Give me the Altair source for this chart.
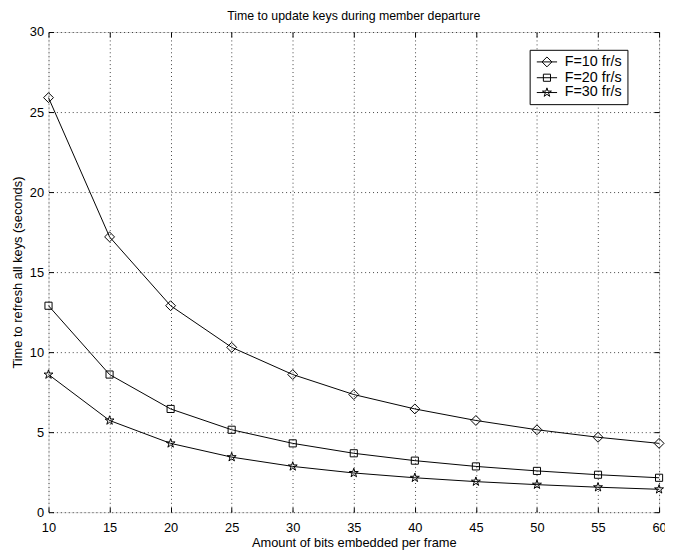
import altair as alt
import pandas as pd
import numpy as np

# ---- data ----
bits = [10, 15, 20, 25, 30, 35, 40, 45, 50, 55, 60]
f10 = [25.9, 17.2, 12.9, 10.3, 8.6, 7.35, 6.45, 5.73, 5.15, 4.68, 4.3]
f20 = [12.9, 8.6, 6.45, 5.15, 4.3, 3.68, 3.22, 2.86, 2.58, 2.34, 2.15]
f30 = [8.6, 5.73, 4.3, 3.44, 2.86, 2.45, 2.15, 1.91, 1.72, 1.56, 1.43]
series = ["F=10 fr/s", "F=20 fr/s", "F=30 fr/s"]
x_ticks = [10, 15, 20, 25, 30, 35, 40, 45, 50, 55, 60]
y_ticks = [0, 5, 10, 15, 20, 25, 30]

rows = []
for name, vals in zip(series, [f10, f20, f30]):
    for b, v in zip(bits, vals):
        rows.append({"bits": b, "time": v, "series": name})
df = pd.DataFrame(rows)

# ---- marker shapes (unit-square SVG paths) ----
def diamond(cx=0.0, s=1.0):
    return f"M{cx - s:.3f},0L{cx:.3f},{-s:.3f}L{cx + s:.3f},0L{cx:.3f},{s:.3f}Z"

def square(cx=0.0, s=0.72):
    return f"M{cx - s:.3f},{-s:.3f}H{cx + s:.3f}V{s:.3f}H{cx - s:.3f}Z"

def star(cx=0.0, R=0.95):
    r = R * 0.382
    pts = []
    for k in range(10):
        ang = np.deg2rad(-90 + 36 * k)
        rad = R if k % 2 == 0 else r
        pts.append((cx + rad * np.cos(ang), rad * np.sin(ang)))
    return "M" + "L".join(f"{x:.3f},{y:.3f}" for x, y in pts) + "Z"

LINE = "M-1,0H3.1"
CX = 1.05
marker_paths = [diamond(), square(), star()]
legend_paths = [LINE + diamond(CX), LINE + square(CX), LINE + star(CX)]

W, H = 618, 486
FONT = "Liberation Sans"

xs = alt.Scale(domain=[10, 60], nice=False, zero=False)
ys = alt.Scale(domain=[0, 30], nice=False, zero=False)

grid_kw = dict(grid=True, gridDash=[1, 3], gridColor="black", gridOpacity=0.75, gridWidth=1)

base = alt.Chart(df)

lines = base.mark_line(color="black", strokeWidth=1).encode(
    x=alt.X("bits:Q", scale=xs, axis=alt.Axis(
        orient="bottom", values=x_ticks, title="Amount of bits embedded per frame",
        tickSize=0, labelPadding=10, titlePadding=2, domain=False, labelFlush=False,
        labelOverlap=False, labelBound=False,
        labelFontSize=13, titleFontSize=13, labelFont=FONT, titleFont=FONT,
        titleFontWeight="normal", labelColor="black", titleColor="black", **grid_kw)),
    y=alt.Y("time:Q", scale=ys, axis=alt.Axis(
        orient="left", values=y_ticks, title="Time to refresh all keys (seconds)",
        tickSize=0, labelPadding=5, titlePadding=5, domain=False, labelFlush=False,
        labelOverlap=False,
        labelFontSize=13, titleFontSize=13, labelFont=FONT, titleFont=FONT,
        titleFontWeight="normal", labelColor="black", titleColor="black", **grid_kw)),
    detail="series:N",
)

markers = base.mark_point(filled=False, stroke="black", strokeWidth=1, size=100, opacity=1).encode(
    x=alt.X("bits:Q", scale=xs, title=None, axis=alt.Axis(
        orient="top", offset=-H, values=x_ticks, labels=False, domain=False, grid=False,
        tickSize=5, tickColor="black")),
    y=alt.Y("time:Q", scale=ys, title=None, axis=alt.Axis(
        orient="right", offset=-W, values=y_ticks, labels=False, domain=False, grid=False,
        tickSize=5, tickColor="black")),
    shape=alt.Shape("series:N", scale=alt.Scale(domain=series, range=marker_paths), legend=None),
)

legend_layer = base.mark_point(filled=False, stroke="black", strokeWidth=1, size=100, opacity=0).encode(
    x=alt.X("bits:Q", scale=xs, title=None, axis=alt.Axis(
        orient="bottom", offset=-H, values=x_ticks, labels=False, domain=False, grid=False,
        tickSize=5, tickColor="black")),
    y=alt.Y("time:Q", scale=ys, title=None, axis=alt.Axis(
        orient="left", offset=-W, values=y_ticks, labels=False, domain=False, grid=False,
        tickSize=5, tickColor="black")),
    shape=alt.Shape("series:N", scale=alt.Scale(domain=series, range=legend_paths), legend=alt.Legend(
        title=None, orient="none", legendX=487, legendY=18, strokeColor="black", fillColor="white",
        padding=5, rowPadding=0, labelFontSize=14.5, labelFont=FONT, labelColor="black",
        symbolSize=100, symbolStrokeWidth=1, symbolOpacity=1, symbolStrokeColor="black",
        symbolFillColor="transparent", labelOffset=16, cornerRadius=0)),
)

chart = alt.layer(lines, markers, legend_layer).resolve_scale(
    shape="independent"
).resolve_legend(shape="independent").resolve_axis(
    x="independent", y="independent"
).properties(
    width=W, height=H,
    padding={"left": 41, "top": 21, "right": 6, "bottom": 39},
    autosize="none",
    title=alt.Title("Time to update keys during member departure", fontSize=12.5,
                    fontWeight="normal", font=FONT, color="black", anchor="middle", offset=4),
).configure_view(stroke="black", strokeWidth=1).configure(background="white")

chart.save("out.html", embed_options={"renderer": "svg", "actions": False})
